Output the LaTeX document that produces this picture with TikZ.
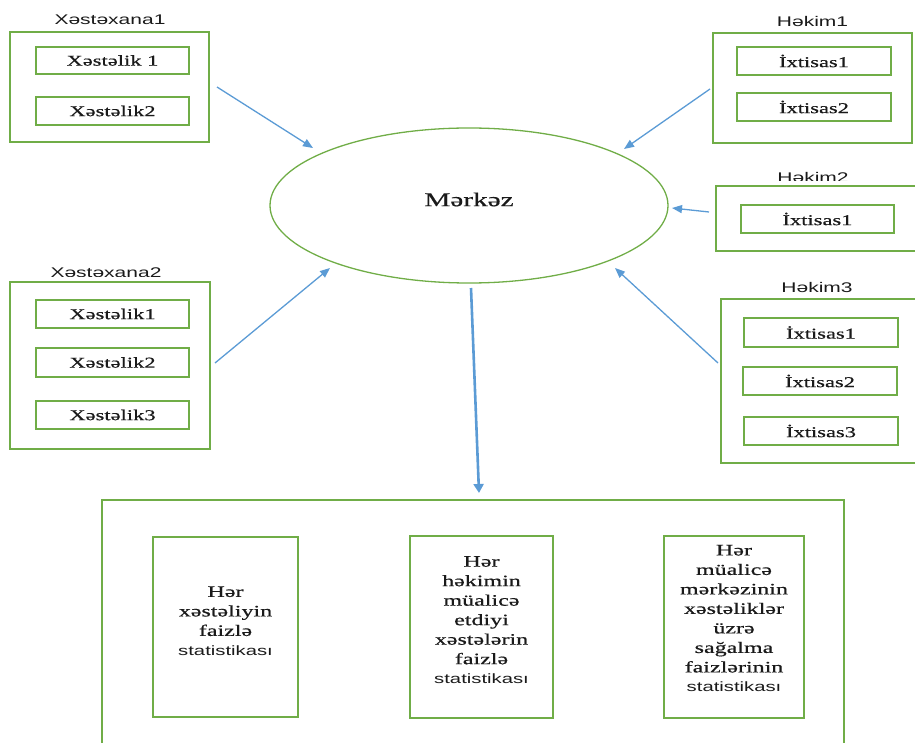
\documentclass[tikz,border=0pt]{standalone}
\usepackage{fontspec}
\setmainfont{Liberation Serif}[FakeStretch=1.5,FakeBold=0.6]
\newfontfamily\capfont{Liberation Sans}[FakeStretch=1.5]
\usetikzlibrary{arrows.meta,shapes.geometric}
\definecolor{boxgreen}{HTML}{70AD47}
\definecolor{arrowblue}{HTML}{5B9BD5}
\definecolor{inktext}{HTML}{1A1A1A}

\begin{document}
\begin{tikzpicture}[x=1pt,y=-1pt,
  outerbox/.style={draw=boxgreen,line width=1.6pt,rectangle,inner sep=0pt},
  itembox/.style={outerbox,text=inktext,font=\fontsize{15}{18}\selectfont},
  grouplabel/.style={font=\capfont\fontsize{14}{16}\selectfont,text=inktext,anchor=base,inner sep=0pt},
  feed/.style={draw=arrowblue,line width=1.3pt,-{Triangle[length=10pt,width=8pt]}},
  statbox/.style={outerbox},
  stattext/.style={align=center,text=inktext,font=\fontsize{16}{19.5}\selectfont,inner sep=0pt},
]
\path[use as bounding box,clip] (0,0) rectangle (915,743);

% ---- central node
\node[draw=boxgreen,line width=1.3pt,ellipse,minimum width=398pt,minimum height=155pt,inner sep=0pt,
      label={[font=\fontsize{19.5}{22}\selectfont,text=inktext,yshift=6pt]center:Mərkəz}]
  (merkez) at (469,205.5) {};

% ---- hospital 1
\node[grouplabel] (xlab1) at (110,25) {Xəstəxana1};
\node[outerbox,minimum width=199pt,minimum height=110pt] (xst1) at (109.5,87) {};
\node[itembox,minimum width=153pt,minimum height=27pt] (x1a) at (112.5,60.5) {Xəstəlik 1};
\node[itembox,minimum width=153pt,minimum height=28pt] (x1b) at (112.5,111) {Xəstəlik2};

% ---- hospital 2
\begin{scope}
  \clip (0,250) rectangle (300,276);
  \node[grouplabel] (xlab2) at (106,277) {Xəstəxana2};
\end{scope}
\node[outerbox,minimum width=200pt,minimum height=167pt] (xst2) at (110,365.5) {};
\node[itembox,minimum width=153pt,minimum height=28pt] (x2a) at (112.5,314) {Xəstəlik1};
\node[itembox,minimum width=153pt,minimum height=29pt] (x2b) at (112.5,362.5) {Xəstəlik2};
\node[itembox,minimum width=153pt,minimum height=28pt] (x2c) at (112.5,415) {Xəstəlik3};

% ---- doctor 1
\node[grouplabel] (hlab1) at (812.5,26.5) {Həkim1};
\node[outerbox,minimum width=199pt,minimum height=110pt] (hk1) at (812.5,88) {};
\node[itembox,minimum width=154pt,minimum height=28pt] (h1a) at (814,61) {İxtisas1};
\node[itembox,minimum width=154pt,minimum height=28pt] (h1b) at (814,107) {İxtisas2};

% ---- doctor 2
\begin{scope}
  \clip (700,160) rectangle (915,181);
  \node[grouplabel] (hlab2) at (813,182.5) {Həkim2};
\end{scope}
\node[outerbox,minimum width=244pt,minimum height=65pt] (hk2) at (838,218.5) {};
\node[itembox,minimum width=153pt,minimum height=28pt] (h2a) at (817.5,219) {İxtisas1};

% ---- doctor 3
\node[grouplabel] (hlab3) at (817,292) {Həkim3};
\node[outerbox,minimum width=239pt,minimum height=164pt] (hk3) at (840.5,381) {};
\node[itembox,minimum width=154pt,minimum height=29pt] (h3a) at (821,332.5) {İxtisas1};
\node[itembox,minimum width=154pt,minimum height=28pt] (h3b) at (820,381) {İxtisas2};
\node[itembox,minimum width=154pt,minimum height=28pt] (h3c) at (821,431) {İxtisas3};

% ---- statistics block
\node[outerbox,minimum width=742pt,minimum height=280pt] (stat) at (473,640) {};
\node[statbox,minimum width=145pt,minimum height=180pt] (s1) at (225.5,627) {};
\node[statbox,minimum width=143pt,minimum height=182pt] (s2) at (481.5,627) {};
\node[statbox,minimum width=140pt,minimum height=182pt] (s3) at (734,627) {};

\node[stattext] (t1) at (225.5,621) {Hər\\xəstəliyin\\faizlə\\{\capfont\fontsize{13.5}{19.5}\selectfont statistikası}};
\node[stattext] (t2) at (481.5,620) {Hər\\həkimin\\müalicə\\etdiyi\\xəstələrin\\faizlə\\{\capfont\fontsize{13.5}{19.5}\selectfont statistikası}};
\node[stattext] (t3) at (734,618.5) {Hər\\müalicə\\mərkəzinin\\xəstəliklər\\üzrə\\sağalma\\faizlərinin\\{\capfont\fontsize{13.5}{19.5}\selectfont statistikası}};

% ---- connectors
\coordinate (f1s) at (217,87);   \coordinate (f1e) at (313,148);
\coordinate (f2s) at (710,89);   \coordinate (f2e) at (624,149);
\coordinate (f3s) at (709,212);  \coordinate (f3e) at (672,208);
\coordinate (f4s) at (215,363);  \coordinate (f4e) at (330,268);
\coordinate (f5s) at (718,363);  \coordinate (f5e) at (615,268);
\coordinate (f6s) at (471,288);  \coordinate (f6e) at (479,493);

\draw[feed] (f1s) -- (f1e);
\draw[feed] (f2s) -- (f2e);
\draw[feed] (f3s) -- (f3e);
\draw[feed] (f4s) -- (f4e);
\draw[feed] (f5s) -- (f5e);
\draw[feed,line width=2.6pt,-{Triangle[length=9pt,width=10pt]}] (f6s) -- (f6e);
\end{tikzpicture}
\end{document}
